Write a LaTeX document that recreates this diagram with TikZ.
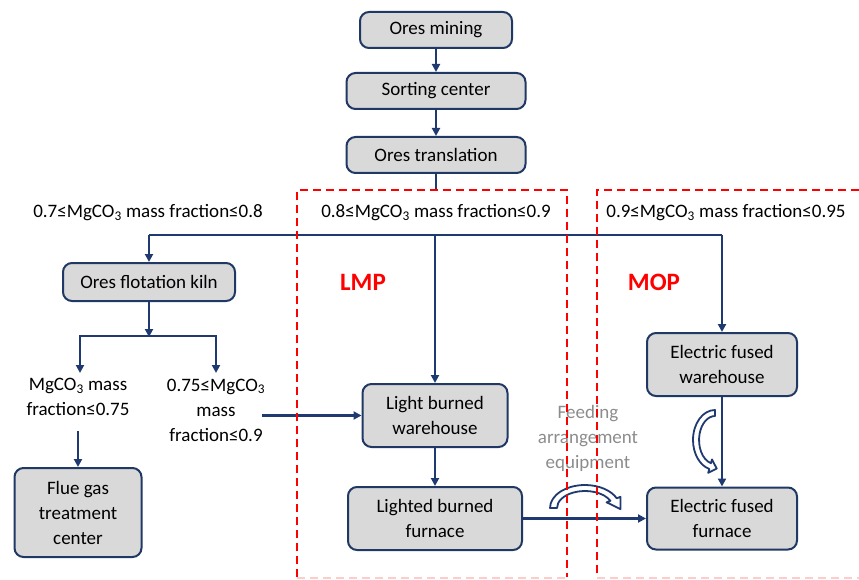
\documentclass[tikz,border=0pt]{standalone}
\usepackage{fontspec}
\setmainfont{Carlito}
\usetikzlibrary{arrows.meta}
\definecolor{navy}{HTML}{1F3A70}
\definecolor{boxfill}{HTML}{D9D9D9}
\definecolor{boxline}{HTML}{203864}
\definecolor{feedgray}{HTML}{8C8C8C}
\begin{document}
\begin{tikzpicture}[x=1pt,y=-1pt,
 box/.style={draw=boxline, line width=2pt, fill=boxfill, rounded corners=9pt, inner sep=0pt, align=center, font=\fontsize{19}{25}\selectfont},
 lbl/.style={inner sep=0pt, align=center, font=\fontsize{19}{25}\selectfont},
 arr/.style={draw=navy, line width=2.6pt, -{Triangle[length=8pt,width=8pt]}},
 ln/.style={draw=navy, line width=2.6pt},
 zone/.style={draw=red, line width=1.9pt, dash pattern=on 8pt off 5pt},
 hollow/.style={draw=navy, line width=1.8pt, fill=white, line join=round},
 zonelbl/.style={inner sep=0pt, text=red, font=\fontsize{25}{30}\selectfont\bfseries}
]
\useasboundingbox (0,0) rectangle (859,580);

% boxes
\node[box, minimum width=152pt, minimum height=36pt] (om) at (436,30) {Ores mining};
\node[box, minimum width=179pt, minimum height=36pt] (sc) at (436,91) {Sorting center};
\node[box, minimum width=179pt, minimum height=36pt] (ot) at (436,155) {Ores translation};
\node[box, minimum width=172pt, minimum height=38pt] (kiln) at (149,282) {Ores flotation kiln};
\node[box, minimum width=127pt, minimum height=89pt] (flue) at (78,512.5) {Flue gas\\treatment\\center};
\node[box, minimum width=145pt, minimum height=63pt] (lbw) at (435,415.5) {Light burned\\warehouse};
\node[box, minimum width=174pt, minimum height=63pt] (lbf) at (435,518.5) {Lighted burned\\furnace};
\node[box, minimum width=150pt, minimum height=63pt] (efw) at (722,364.5) {Electric fused\\warehouse};
\node[box, minimum width=150pt, minimum height=62pt] (eff) at (722,518.5) {Electric fused\\furnace};

% text labels
\node[lbl] (t1) at (148,213) {0.7≤MgCO\textsubscript{3} mass fraction≤0.8};
\node[lbl] (t2) at (436,213) {0.8≤MgCO\textsubscript{3} mass fraction≤0.9};
\node[lbl] (t3) at (726,213) {0.9≤MgCO\textsubscript{3} mass fraction≤0.95};
\node[lbl] (t4) at (78,397) {MgCO\textsubscript{3} mass\\fraction≤0.75};
\node[lbl] (t5) at (216,410) {0.75≤MgCO\textsubscript{3}\\mass\\fraction≤0.9};
\node[lbl, text=feedgray] (feed) at (588,438) {Feeding\\arrangement\\equipment};
\node[zonelbl] (lmp) at (363,282) {LMP};
\node[zonelbl] (mop) at (654,282) {MOP};

% connectors
\draw[arr] (om) -- (sc);
\draw[arr] (sc) -- (ot);
\coordinate (jt) at (436,190);
\draw[ln] (ot.south) -- (jt);
\coordinate (hl) at (149,235);
\coordinate (hm) at (435,235);
\coordinate (hr) at (722,235);
\draw[ln] (hl) -- (hr);
\draw[arr] (hl) -- (kiln.north);
\draw[arr] (hm) -- (lbw.north);
\draw[arr] (hr) -- (efw.north);

\coordinate (bk) at (149,337);
\coordinate (bl) at (80,336);
\coordinate (br) at (216,336);
\coordinate (bla) at (80,373);
\coordinate (bra) at (216,373);
\draw[arr] (kiln.south) -- (bk);
\draw[ln, line cap=rect] (bl) -- (br);
\draw[arr] (bl) -- (bla);
\draw[arr] (br) -- (bra);

\coordinate (fa) at (78,431);
\draw[arr] (fa) -- (flue.north);
\coordinate (t5e) at (262,415.5);
\draw[arr] (t5e) -- (lbw.west);
\draw[arr] (lbw) -- (lbf);
\draw[arr] (lbf) -- (eff);
\draw[arr] (efw) -- (eff);

% hollow curved arrows
\draw[hollow] (550,508) arc[start angle=180,end angle=335,x radius=35,y radius=23]
  -- (620.5,496.8) -- (620.5,509.2) -- (606.6,502.3) -- (610.4,500.8)
  arc[start angle=335,end angle=180,x radius=28,y radius=17] -- cycle;
\draw[hollow] (715,410) arc[start angle=270,end angle=105,x radius=22,y radius=30]
  -- (708.2,472.8) -- (716.7,468.6) -- (712,459.4) -- (710.9,463.2)
  arc[start angle=105,end angle=270,x radius=16,y radius=24] -- cycle;

% dashed zones
\draw[zone] (297,577) -- (297,190) -- (567,190) -- (567,577);
\draw[zone, draw=red!20] (297,578) -- (567,578);
\draw[zone] (859,190) -- (597,190) -- (597,577);
\draw[zone, draw=red!20] (597,578) -- (859,578);
\end{tikzpicture}
\end{document}
